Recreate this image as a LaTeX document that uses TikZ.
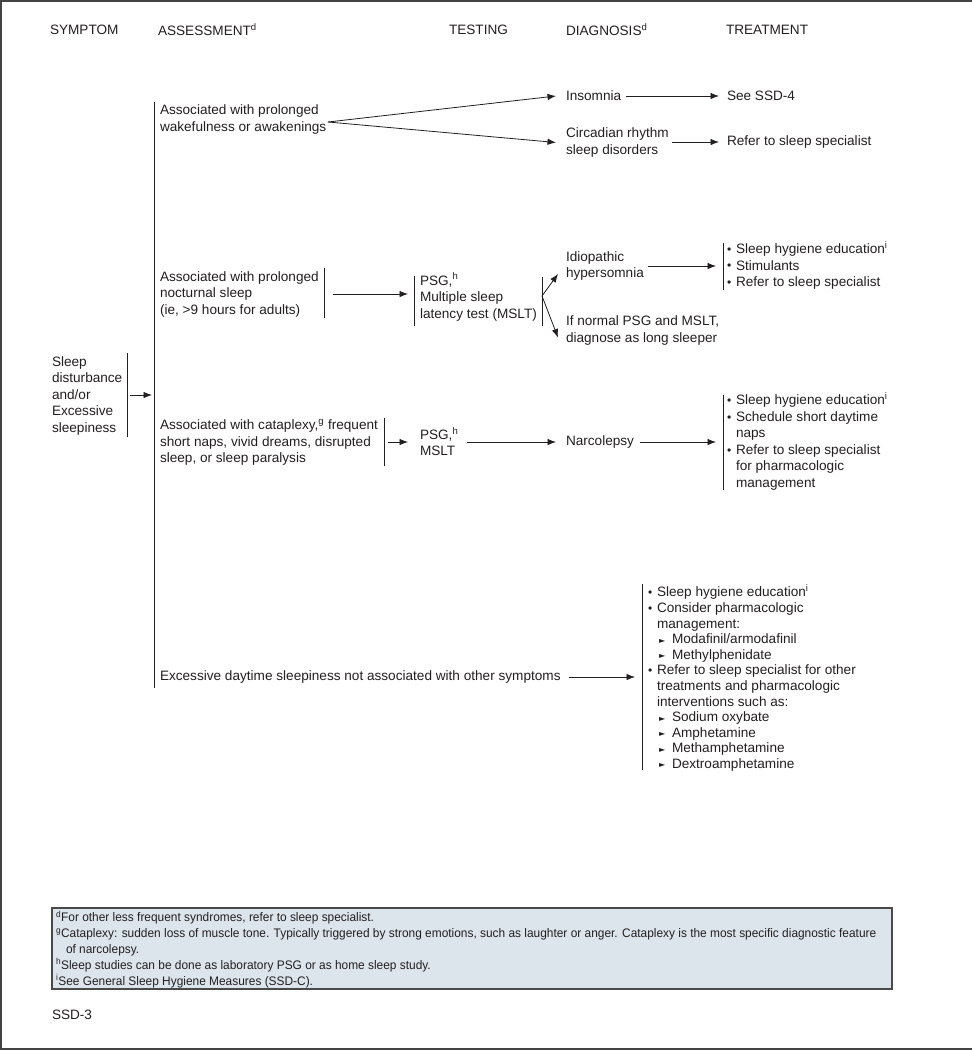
\documentclass[tikz,border=0pt]{standalone}
\usepackage{fontspec}
\setmainfont{Liberation Sans}
\newfontfamily\condfont[FakeStretch=0.96]{Liberation Sans}
\newfontfamily\symfont{DejaVu Sans}
\usetikzlibrary{arrows.meta,calc}
\definecolor{ink}{HTML}{231F20}
\definecolor{boxfill}{HTML}{DCE5EC}
\definecolor{boxline}{HTML}{4A4A4A}
\definecolor{framec}{HTML}{444444}
\newcommand\bul{\makebox[9pt][l]{\raisebox{0.3pt}{\fontsize{12}{12}\selectfont\textbullet}}}
\newcommand\ind{\hspace*{9pt}}
\newcommand\sub{\hspace*{11pt}\makebox[13pt][l]{\raisebox{0.5pt}{\symfont\fontsize{8}{8}\selectfont ►}}}
\begin{document}
\begin{tikzpicture}[x=1pt,y=-1pt,
  every node/.style={inner sep=0pt, outer sep=0pt, text=ink, align=left,
    font=\fontsize{13.6}{16.5}\selectfont},
  txt/.style={anchor=west},
  hdr/.style={anchor=west, font=\fontsize{13.6}{16}\selectfont},
  conn/.style={draw=ink, line width=0.8pt, -{Latex[length=8.5pt,width=6.5pt]}},
  bar/.style={draw=ink, line width=0.8pt},
  foot/.style={anchor=west, font=\condfont\fontsize{12.4}{15.8}\selectfont},
  fbox/.style={draw=boxline, fill=boxfill, line width=1.2pt, anchor=north west,
    minimum width=840pt, minimum height=81pt}]
\useasboundingbox (0,0) rectangle (972,1050);
\draw[framec, line width=2.2pt] (972,1) -- (1,1) -- (1,1049) -- (972,1049);

% headers
\node[hdr] (hS) at (50,30) {SYMPTOM};
\node[hdr] (hA) at (158,30) {ASSESSMENT\textsuperscript{d}};
\node[hdr] (hT) at (449,30) {TESTING};
\node[hdr] (hD) at (566,30) {DIAGNOSIS\textsuperscript{d}};
\node[hdr] (hR) at (726,30) {TREATMENT};

% symptom
\node[txt] (sym) at (52,395.5) {Sleep\\disturbance\\and/or\\Excessive\\sleepiness};
\coordinate (symbar) at (127,395);
\coordinate (vt) at (154,395);
\draw[bar] (127,353) -- (127,437);
\draw[conn] ([xshift=3]symbar) -- ([xshift=-2]vt);
\draw[bar] (154,102) -- (154,688);

% branch 1
\node[txt] (a1) at (160,119.5) {Associated with prolonged\\wakefulness or awakenings};
\node[txt] (ins) at (566,96) {Insomnia};
\node[txt] (circ) at (566,142.5) {Circadian rhythm\\sleep disorders};
\node[txt] (ssd4) at (727,96) {See SSD-4};
\node[txt] (ref1) at (727,142) {Refer to sleep specialist};
\coordinate (f1) at (328,122);
\draw[conn] (f1) -- ([xshift=-10]ins.west);
\draw[conn] (f1) -- ([xshift=-10]circ.west);
\draw[conn] ([xshift=5]ins.east) -- ([xshift=-8]ssd4.west);
\draw[conn] (672,142) -- ([xshift=-8]ref1.west);

% branch 2
\node[txt] (a2) at (160,294) {Associated with prolonged\\nocturnal sleep\\(ie, \textgreater9 hours for adults)};
\draw[bar] (324,268) -- (324,318);
\node[txt] (t2) at (420,297) {PSG,\textsuperscript{h}\\Multiple sleep\\latency test (MSLT)};
\draw[bar] (414,276) -- (414,326);
\draw[conn] (333,294) -- (408,294);
\draw[bar] (542,277) -- (542,326);
\coordinate (f2) at (542,296);
\node[txt] (d2a) at (566,266) {Idiopathic\\hypersomnia};
\node[txt] (d2b) at (566,330.5) {If normal PSG and MSLT,\\diagnose as long sleeper};
\draw[conn] (f2) -- ([xshift=-8,yshift=-8]d2a.west);
\draw[conn] (f2) -- ([xshift=-8,yshift=-7]d2b.west);
\node[txt] (tr2) at (727,265.5) {\bul Sleep hygiene education\textsuperscript{i}\\\bul Stimulants\\\bul Refer to sleep specialist};
\draw[bar] (723,243) -- (723,290);
\draw[conn] (648,266) -- (716,266);

% branch 3
\node[txt] (a3) at (160,442.5) {Associated with cataplexy,\textsuperscript{g} frequent\\short naps, vivid dreams, disrupted\\sleep, or sleep paralysis};
\draw[bar] (384,418) -- (384,466);
\node[txt] (t3) at (420,441.5) {PSG,\textsuperscript{h}\\MSLT};
\draw[conn] (388,442) -- ([xshift=-12]t3.west |- 0,442);
\node[txt] (narc) at (566,442) {Narcolepsy};
\draw[conn] (467,442) -- ([xshift=-10]narc.west);
\node[txt] (tr3) at (727,441.5) {\bul Sleep hygiene education\textsuperscript{i}\\\bul Schedule short daytime\\\ind naps\\\bul Refer to sleep specialist\\\ind for pharmacologic\\\ind management};
\draw[bar] (723,395) -- (723,490);
\draw[conn] ([xshift=6]narc.east) -- (716,442);

% branch 4
\node[txt] (a4) at (160,677) {Excessive daytime sleepiness not associated with other symptoms};
\node[txt, font=\fontsize{13.6}{15.6}\selectfont] (tr4) at (648,678) {\bul Sleep hygiene education\textsuperscript{i}\\\bul Consider pharmacologic\\\ind management:\\\sub Modafinil/armodafinil\\\sub Methylphenidate\\\bul Refer to sleep specialist for other\\\ind treatments and pharmacologic\\\ind interventions such as:\\\sub Sodium oxybate\\\sub Amphetamine\\\sub Methamphetamine\\\sub Dextroamphetamine};
\draw[bar] (642,584) -- (642,770);
\draw[conn] ([xshift=8]a4.east) -- (635,677);

% footnotes
\node[fbox] (fb) at (52,908) {};
\node[foot] (fn) at (56,949.5) {\textsuperscript{d}For other less frequent syndromes, refer to sleep specialist.\\\textsuperscript{g}Cataplexy: sudden loss of muscle tone. Typically triggered by strong emotions, such as laughter or anger. Cataplexy is the most specific diagnostic feature\\\hspace*{10pt}of narcolepsy.\\\textsuperscript{h}Sleep studies can be done as laboratory PSG or as home sleep study.\\\textsuperscript{i}See General Sleep Hygiene Measures (SSD-C).};
\node[txt] (ssd3) at (52,1015) {SSD-3};
\end{tikzpicture}
\end{document}
